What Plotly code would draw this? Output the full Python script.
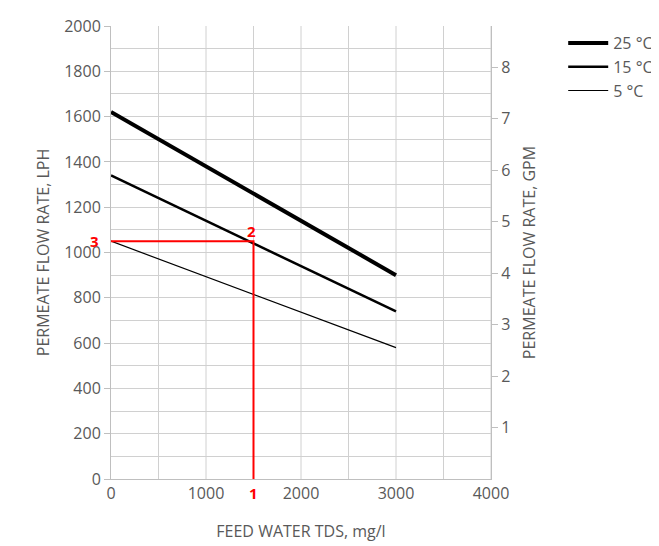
import plotly.graph_objects as go

tds = [0, 3000]
flow_25 = [1620, 900]
flow_15 = [1340, 740]
flow_5 = [1050, 580]
example_tds = 1500
example_flow = 1050
lph_per_gpm = 227.125

grey = "#595959"
fnt = dict(family="Open Sans", size=16, color=grey)

fig = go.Figure()
fig.add_trace(go.Scatter(x=tds, y=flow_25, mode="lines", name="25 °C", line=dict(color="black", width=4)))
fig.add_trace(go.Scatter(x=tds, y=flow_15, mode="lines", name="15 °C", line=dict(color="black", width=2.5)))
fig.add_trace(go.Scatter(x=tds, y=flow_5, mode="lines", name="5 °C", line=dict(color="black", width=1.2)))

# red example lines
fig.add_trace(go.Scatter(x=[0, example_tds, example_tds], y=[example_flow, example_flow, 0], mode="lines",
                         line=dict(color="red", width=2), showlegend=False, cliponaxis=False))
# dummy for right axis
fig.add_trace(go.Scatter(x=[0], y=[0], yaxis="y2", mode="markers", marker=dict(opacity=0), showlegend=False, hoverinfo="skip"))

red = dict(family="Open Sans", size=15, color="red")
fig.add_annotation(x=example_tds, y=0, text="<b>1</b>", showarrow=False, yshift=-14, font=red)
fig.add_annotation(x=example_tds, y=example_flow, text="<b>2</b>", showarrow=False, yshift=10, xshift=-2, font=red)
fig.add_annotation(x=0, y=example_flow, text="<b>3</b>", showarrow=False, xshift=-17, font=red)

fig.update_layout(
    width=659, height=546,
    margin=dict(l=103, r=176, t=18, b=75, autoexpand=False),
    plot_bgcolor="white", paper_bgcolor="white",
    font=fnt,
    xaxis=dict(range=[0, 4000], tickvals=[0, 1000, 2000, 3000, 4000], automargin=False,
               showgrid=False, linecolor="#bfbfbf", zeroline=False,
               title=dict(text="FEED WATER TDS, mg/l", font=fnt, standoff=22), ticks=""),
    yaxis=dict(range=[0, 2000], dtick=200, showgrid=True, gridcolor="#d0d0d0", zeroline=False,
               minor=dict(dtick=100, showgrid=True, gridcolor="#d0d0d0"), automargin=False,
               linecolor="#bfbfbf", ticks="outside", tickcolor="#bfbfbf", ticklen=6,
               title=dict(text="PERMEATE FLOW RATE, LPH", font=fnt, standoff=10)),
    yaxis2=dict(overlaying="y", side="right", range=[0, 2000 / lph_per_gpm], tickvals=list(range(1, 9)),
                showgrid=False, zeroline=False, showline=True, linecolor="#bfbfbf", automargin=False,
                ticks="outside", tickcolor="#bfbfbf", ticklen=6,
                title=dict(text="PERMEATE FLOW RATE, GPM", font=fnt, standoff=14)),
    legend=dict(x=1.19, y=1.0, xanchor="left", yanchor="top", font=fnt, bgcolor="rgba(0,0,0,0)",
                tracegroupgap=14, itemwidth=40),
)
# vertical grid every 500
for v in range(500, 4001, 500):
    fig.add_shape(type="line", x0=v, x1=v, y0=0, y1=2000, xref="x", yref="y",
                  line=dict(color="#d0d0d0", width=1), layer="below")

fig.write_html("out.html")
